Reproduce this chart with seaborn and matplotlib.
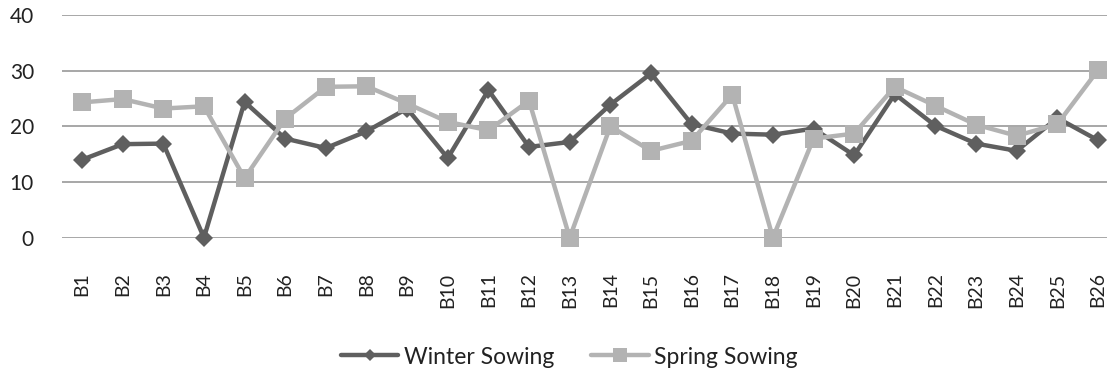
import matplotlib
matplotlib.use("Agg")
import matplotlib.pyplot as plt
import seaborn as sns
import pandas as pd

categories = ["B%d" % i for i in range(1, 27)]
winter = [14.0, 16.8, 16.9, 0.0, 24.4, 17.8, 16.1, 19.1, 23.2, 14.3, 26.5, 16.3, 17.2,
          23.9, 29.5, 20.4, 18.7, 18.5, 19.6, 14.8, 25.8, 20.1, 16.9, 15.6, 21.5, 17.5]
spring = [24.3, 24.9, 23.2, 23.6, 10.7, 21.4, 27.1, 27.2, 24.1, 20.8, 19.3, 24.6, 0.0,
          20.0, 15.6, 17.4, 25.7, 0.0, 17.8, 18.7, 27.1, 23.7, 20.3, 18.3, 20.4, 30.1]
series_names = ["Winter Sowing", "Spring Sowing"]
yticks = [0, 10, 20, 30, 40]

df = pd.DataFrame({
    "cat": categories * 2,
    "value": winter + spring,
    "series": [series_names[0]] * len(categories) + [series_names[1]] * len(categories),
})

sns.set_theme(style="white")
plt.rcParams["font.family"] = ["Lato", "DejaVu Sans"]

fig = plt.figure(figsize=(11.07, 3.73), dpi=100)
ax = fig.add_axes([61.7 / 1107, (373 - 237.7) / 373, (1107 - 61.7) / 1107, (237.7 - 15) / 373])

palette = {"Winter Sowing": "#5f5f5f", "Spring Sowing": "#b3b3b3"}
sns.lineplot(data=df, x="cat", y="value", hue="series", style="series",
             hue_order=series_names, style_order=series_names,
             palette=palette, markers={"Winter Sowing": "D", "Spring Sowing": "s"},
             dashes=False, linewidth=3.2, markeredgewidth=0, ax=ax,
             sort=False, legend=False, clip_on=False, zorder=3)
for ln, ms in zip(ax.lines, [9.5, 13.5]):
    ln.set_markersize(ms)

ax.set_xlim(-0.5, 25 + 9 / 40.64)
ax.set_ylim(0, 40)
ax.set_yticks(yticks)
ax.yaxis.grid(True, color="#a0a0a0", linewidth=1.3, zorder=0)
ax.xaxis.grid(False)
ax.set_axisbelow(True)
for s in ax.spines.values():
    s.set_visible(False)
ax.set_xlabel("")
ax.set_ylabel("")
ax.tick_params(axis="y", length=0, pad=20, labelsize=15, colors="#222222")
ax.tick_params(axis="x", length=0, pad=25, labelsize=14, colors="#222222")
plt.setp(ax.get_xticklabels(), rotation=90, va="top", ha="center")

from matplotlib.lines import Line2D
handles = [
    Line2D([], [], color="#5f5f5f", lw=3.2, marker="D", ms=6.5, mew=0),
    Line2D([], [], color="#b3b3b3", lw=3.2, marker="s", ms=10, mew=0),
]
fig.legend(handles, series_names, loc="center", bbox_to_anchor=(0.5145, 1 - 357 / 373),
           ncol=2, frameon=False, fontsize=16.5, handlelength=2.5, handletextpad=0.25,
           columnspacing=1.6, labelcolor="#222222")

fig.savefig("out.png", dpi=100)
